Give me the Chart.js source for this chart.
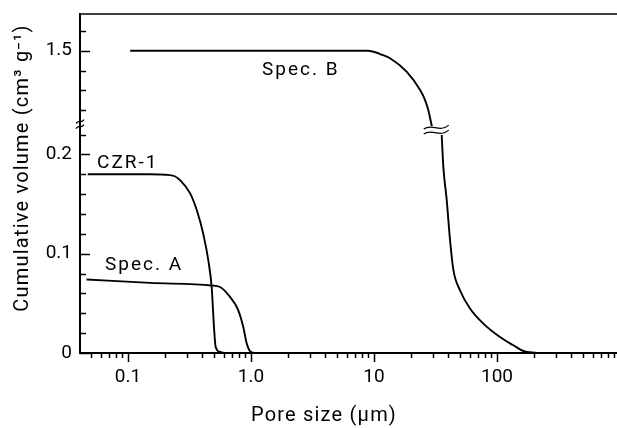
<!DOCTYPE html>
<html>
<head>
<meta charset="utf-8">
<script src="https://cdn.jsdelivr.net/npm/chart.js@4/dist/chart.umd.min.js"></script>
<style>
  html, body { margin: 0; padding: 0; background: #fff; }
  #wrap { width: 617px; height: 428px; }
</style>
</head>
<body>
<div id="wrap"><canvas id="chart" width="617" height="428"></canvas></div>
<script>
// pore size in um, cumulative volume in cm3/g
const czrX = [0.047, 0.10, 0.15, 0.20, 0.24, 0.265, 0.319, 0.362, 0.409, 0.450, 0.479, 0.500, 0.516, 0.560, 0.615, 1.0];
const czrY = [0.180, 0.180, 0.180, 0.1795, 0.178, 0.174, 0.161, 0.144, 0.120, 0.093, 0.066, 0.026, 0.006, 0.001, 0, 0];

const specAX = [0.046, 0.151, 0.479, 0.560, 0.675, 0.788, 0.866, 0.923, 0.98, 1.08, 2.08];
const specAY = [0.074, 0.0706, 0.068, 0.0665, 0.0565, 0.043, 0.026, 0.0095, 0.002, 0, 0];

// Spec. B: upper part on the 1.5 segment, null marks the axis break
const specBX = [0.104, 1.0, 8.9, 9.9, 11.2, 13.5, 18.4, 23.7, 26.0, 27.6, 29.5, 32, 35.5, 36.6, 39.0, 41.5, 44.2, 50.0, 60.3, 77.4, 105.7, 135.8, 163.7, 210];
const specBY = [1.50, 1.50, 1.50, 1.499, 1.4967, 1.4924, 1.4789, 1.4604, 1.4503, 1.4403, 1.4241, null, 0.2195, 0.1875, 0.1539, 0.1136, 0.0834, 0.0632, 0.0448, 0.0296, 0.0161, 0.0078, 0.002, 0];

const xLabels = {0.1: '0.1', 1: '1.0', 10: '10', 100: '100'};
const yLabels = [0, 0.1, 0.2, 1.5];
const yMinor = [0, 0.02, 0.04, 0.06, 0.08, 0.1, 0.12, 0.14, 0.16, 0.18, 0.2, 0.22, 1.44, 1.46, 1.48, 1.5, 1.52];

// the upper segment (1.5) is shifted down onto the same linear scale
const BREAK_OFFSET = 1.1956;
const BREAK_AT = 0.2305;
function toDisplay(v)
{
  if (v === null) return null;
  return v > 1 ? v - BREAK_OFFSET : v;
}

function pts(xs, ys)
{
  return xs.map((x, i) => ({x: x, y: toDisplay(ys[i])}));
}

// 1..9 x 10^e inside the axis range
function logTicks(min, max)
{
  const t = [];
  for (let e = -2; e <= 3; e++)
  {
    for (let m = 1; m <= 9; m++)
    {
      const v = Number((m * Math.pow(10, e)).toPrecision(3));
      if (v >= min && v <= max) t.push(v);
    }
  }
  return t;
}

const X_MIN = 0.0407;
const X_MAX = 945;
const FONT = 'Roboto, "DejaVu Sans", sans-serif';

// {{{ decorations: ticks, breaks, titles, curve labels
const deco = {
  id: 'deco',
  afterDraw(chart)
  {
    const ctx = chart.ctx;
    const a = chart.chartArea;
    const xs = chart.scales.x;
    const ys = chart.scales.y;
    ctx.save();
    ctx.strokeStyle = '#000';
    ctx.fillStyle = '#000';
    ctx.lineWidth = 1.5;

    // top frame line
    ctx.beginPath();
    ctx.moveTo(a.left, a.top);
    ctx.lineTo(a.right, a.top);
    ctx.stroke();

    // y ticks point into the plot
    for (const v of yMinor)
    {
      const py = Math.round(ys.getPixelForValue(toDisplay(v))) + 0.5;
      const len = yLabels.includes(v) ? 10 : 6;
      ctx.beginPath();
      ctx.moveTo(a.left, py);
      ctx.lineTo(a.left + len, py);
      ctx.stroke();
    }
    // x ticks point outward
    for (const v of logTicks(X_MIN, X_MAX))
    {
      const px = Math.round(xs.getPixelForValue(v)) + 0.5;
      const len = xLabels[v] !== undefined ? 9 : 5;
      ctx.beginPath();
      ctx.moveTo(px, a.bottom);
      ctx.lineTo(px, a.bottom + len);
      ctx.stroke();
    }

    // break mark on the y axis
    const by = ys.getPixelForValue(BREAK_AT);
    ctx.lineWidth = 1.2;
    for (const d of [-2.5, 2.5])
    {
      ctx.beginPath();
      ctx.moveTo(a.left - 4, by + d + 2);
      ctx.bezierCurveTo(a.left - 1, by + d - 3, a.left + 1, by + d + 3, a.left + 4, by + d - 2);
      ctx.stroke();
    }

    // break mark on the Spec. B curve, between the two segments
    const gap = specBY.indexOf(null);
    const x0 = xs.getPixelForValue(specBX[gap - 1]);
    const x1 = xs.getPixelForValue(specBX[gap + 1]);
    const y0 = ys.getPixelForValue(toDisplay(specBY[gap - 1]));
    const y1 = ys.getPixelForValue(toDisplay(specBY[gap + 1]));
    const cx = (x0 + x1) / 2;
    const cy = (y0 + y1) / 2;
    for (const d of [-2.5, 2.5])
    {
      ctx.beginPath();
      ctx.moveTo(cx - 13, cy + d + 1);
      ctx.bezierCurveTo(cx - 5, cy + d - 5, cx + 3, cy + d + 5, cx + 12, cy + d - 3);
      ctx.stroke();
    }

    // curve labels
    ctx.font = '19px ' + FONT;
    ctx.letterSpacing = '2px';
    ctx.textBaseline = 'middle';
    ctx.textAlign = 'left';
    ctx.fillText('CZR-1', xs.getPixelForValue(0.056), ys.getPixelForValue(0.191));
    ctx.fillText('Spec. A', xs.getPixelForValue(0.065), ys.getPixelForValue(0.0884));
    ctx.fillText('Spec. B', xs.getPixelForValue(1.23), ys.getPixelForValue(toDisplay(1.48)));

    // axis titles
    ctx.font = '20px ' + FONT;
    ctx.letterSpacing = '1.2px';
    ctx.textAlign = 'center';
    ctx.fillText('Pore size (\u00b5m)', 324, 416);
    ctx.translate(23, 168);
    ctx.rotate(-Math.PI / 2);
    ctx.fillText('Cumulative volume (cm\u00b3 g\u207b\u00b9)', 0, 0);
    ctx.restore();
  }
};
// }}}

const line = {borderColor: '#000', borderWidth: 1.9, pointRadius: 0, showLine: true, fill: false, cubicInterpolationMode: 'monotone', spanGaps: false};

new Chart(document.getElementById('chart'),
{
  type: 'scatter',
  data: {
    datasets: [
      Object.assign({label: 'CZR-1', data: pts(czrX, czrY)}, line),
      Object.assign({label: 'Spec. A', data: pts(specAX, specAY)}, line),
      Object.assign({label: 'Spec. B', data: pts(specBX, specBY)}, line)
    ]
  },
  options: {
    responsive: false,
    animation: false,
    layout: {padding: {top: 14, right: 0, left: 0, bottom: 0}},
    plugins: {legend: {display: false}, tooltip: {enabled: false}},
    scales: {
      x: {
        type: 'logarithmic',
        min: X_MIN,
        max: X_MAX,
        grid: {display: false, drawTicks: false},
        border: {display: true, color: '#000', width: 2},
        afterFit: (s) => { s.height = 75; s.paddingLeft = 0; s.paddingRight = 0; },
        afterBuildTicks: (s) =>
        {
          s.ticks = logTicks(s.min, s.max).map((v) => ({value: v}));
        },
        ticks: {
          autoSkip: false,
          maxRotation: 0,
          padding: 13,
          color: '#000',
          font: {family: FONT, size: 19},
          callback: (v) => (xLabels[v] !== undefined ? xLabels[v] : null)
        }
      },
      y: {
        type: 'linear',
        min: 0,
        max: 0.3414,
        grid: {display: false, drawTicks: false},
        border: {display: true, color: '#000', width: 2},
        afterFit: (s) => { s.width = 80; s.paddingTop = 0; s.paddingBottom = 0; },
        afterBuildTicks: (s) =>
        {
          s.ticks = yMinor.map((v) => ({value: toDisplay(v)}));
        },
        ticks: {
          autoSkip: false,
          padding: 8,
          color: '#000',
          font: {family: FONT, size: 19},
          callback: (v) =>
          {
            for (const l of yLabels)
            {
              if (Math.abs(toDisplay(l) - v) < 1e-6) return String(l);
            }
            return null;
          }
        }
      }
    }
  },
  plugins: [deco]
});
</script>
</body>
</html>
